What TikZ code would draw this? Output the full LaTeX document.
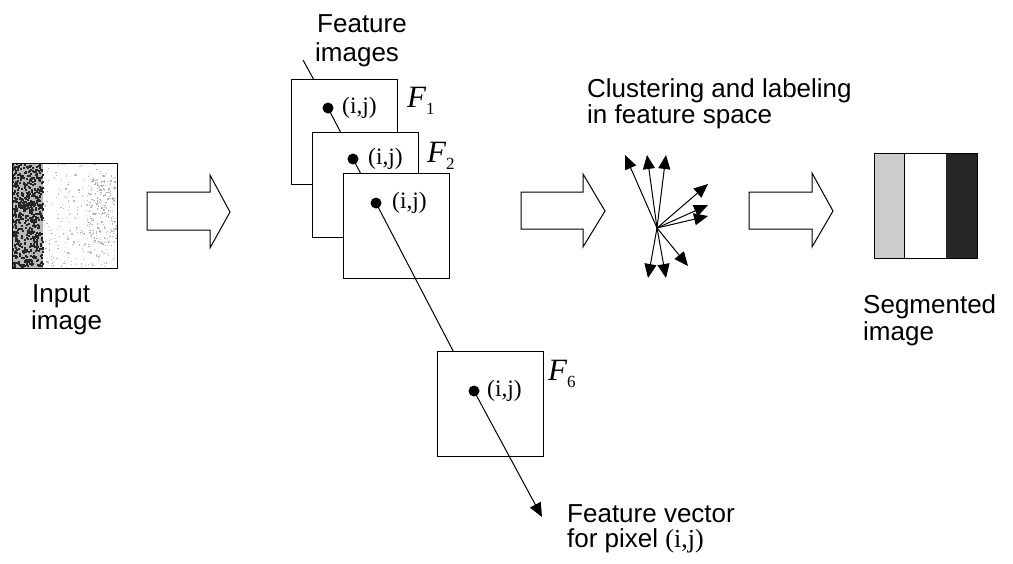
\documentclass[tikz,border=0pt]{standalone}
\usepackage{fontspec}
\setmainfont{Liberation Sans}
\newfontfamily\serifff{Liberation Serif}
\usetikzlibrary{arrows.meta}
\newcommand\flab[1]{{\serifff\fontsize{31}{31}\selectfont\itshape F}\raisebox{-7pt}{\serifff\fontsize{17}{17}\selectfont #1}}
\begin{document}
\begin{tikzpicture}[x=1pt,y=-1pt,
  lbl/.style={anchor=base west, inner sep=0pt, font=\fontsize{26}{27}\selectfont},
  ijl/.style={anchor=west, inner sep=0pt, font=\serifff\fontsize{23.5}{23.5}\selectfont},
  flbl/.style={anchor=base west, inner sep=0pt},
  fimg/.style={draw, fill=white, line width=1pt, inner sep=0pt, outer sep=0pt, minimum width=106pt, minimum height=105pt},
  pix/.style={circle, fill=black, inner sep=0pt, minimum size=11pt},
  link/.style={line width=1pt},
  vec/.style={line width=1pt, -{Triangle[length=14pt,width=12pt]}},
  blockarrow/.style={draw, line width=1pt, fill=white, line join=miter}]
\useasboundingbox (0,0) rectangle (1013,563);
\fill[white] (0,0) rectangle (1013,563);

% ---------- input image ----------
\fill[gray!55] (12,163) rectangle (43,268);
\pgfmathsetseed{42}
\foreach \k in {1,...,600}{
  \pgfmathsetmacro\xx{12+30*rnd}\pgfmathsetmacro\yy{163+103*rnd}
  \fill[black!85] (\xx,\yy) rectangle ++(2,2);}
\foreach \k in {1,...,260}{
  \pgfmathsetmacro\xx{43+72*rnd}\pgfmathsetmacro\yy{163+103*rnd}
  \fill[gray!55] (\xx,\yy) rectangle ++(1.2,1.2);}
\foreach \k in {1,...,160}{
  \pgfmathsetmacro\xx{88+28*rnd}\pgfmathsetmacro\yy{175+70*rnd}
  \fill[gray!60] (\xx,\yy) rectangle ++(1.3,1.3);}
\node[draw, line width=1pt, inner sep=0pt, minimum width=105pt, minimum height=105pt] (inimg) at (64.5,215.5) {};
\node[lbl] (in1) at (32,302) {Input};
\node[lbl] (in2) at (31,329) {image};

% ---------- block arrows ----------
\draw[blockarrow] (147,192) -- (210,192) -- (210,175) -- (230,212) -- (210,248) -- (210,230) -- (147,230) -- cycle;
\draw[blockarrow] (521,192) -- (583,192) -- (583,174) -- (605,211) -- (583,247) -- (583,229) -- (521,229) -- cycle;
\draw[blockarrow] (749,192) -- (812,192) -- (812,173) -- (833,211) -- (812,247) -- (812,229) -- (749,229) -- cycle;

% ---------- feature images ----------
\node[lbl] (ft1) at (317,32) {Feature};
\node[lbl] (ft2) at (315,61) {images};
\coordinate (lead) at (303,60);
\coordinate (leadend) at (314,80);
\draw[link] (lead) -- (leadend);

\node[fimg] (F1box) at (344,131.5) {};
\node[pix] (d1) at (328,108) {};
\node[ijl] (ij1) at (342,108) {(i,j)};
\node[flbl] (F1) at (407,107) {\flab{1}};
\draw[link] (d1.center) -- (355,160);

\node[fimg] (F2box) at (365,184.5) {};
\node[pix] (d2) at (353,159) {};
\node[ijl] (ij2) at (368,159) {(i,j)};
\node[flbl] (F2) at (427,162) {\flab{2}};
\draw[link] (d2.center) -- (378,206);

\node[fimg] (F3box) at (396,225.5) {};
\node[pix] (d3) at (376,203) {};
\node[ijl] (ij3) at (392,203) {(i,j)};
\draw[link] (d3.center) -- (474,391);

\node[fimg] (F6box) at (490.5,403.5) {};
\node[pix] (d6) at (474,391) {};
\node[ijl] (ij6) at (487,391) {(i,j)};
\node[flbl] (F6) at (548,380) {\flab{6}};
\coordinate (vtip) at (542,517);
\draw[vec] (d6.center) -- (vtip);
\node[lbl] (fv1) at (567,522) {Feature vector};
\node[lbl] (fv2) at (567,547) {for pixel {\serifff (i,j)}};

% ---------- clustering ----------
\node[lbl] (cl1) at (587,97) {Clustering and labeling};
\node[lbl] (cl2) at (587,123) {in feature space};
\coordinate (c) at (657,228);
\foreach \tx/\ty in {625/155, 647/155, 666/155, 708/184, 708/205, 708/216, 688/266, 666/278, 648/278}{
  \draw[vec] (c) -- (\tx,\ty);}

% ---------- segmented image ----------
\fill[gray!40] (874,153) rectangle (904,258);
\fill[black!85] (946,153) rectangle (977,258);
\draw[line width=1pt] (904,153) -- (904,258);
\node[draw, line width=1pt, inner sep=0pt, minimum width=103pt, minimum height=105pt] (segimg) at (925.5,205.5) {};
\node[lbl] (sg1) at (863,313) {Segmented};
\node[lbl] (sg2) at (863,340) {image};
\end{tikzpicture}
\end{document}
